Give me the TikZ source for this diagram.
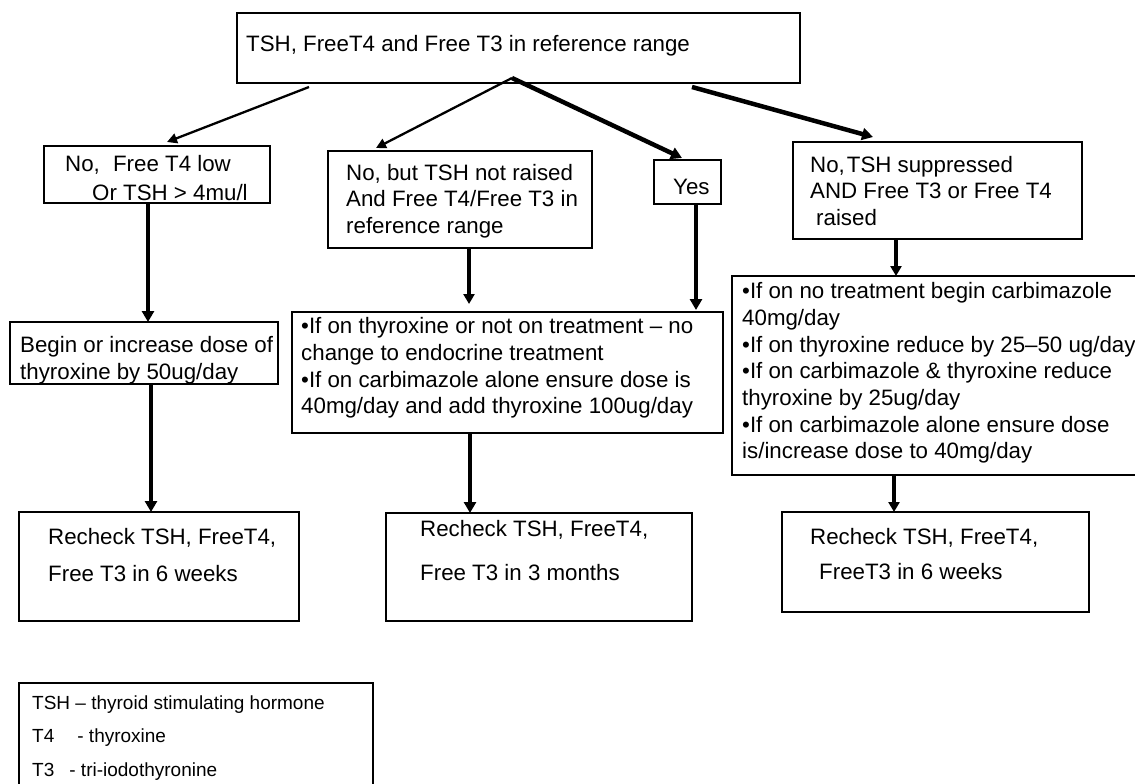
\documentclass[tikz,border=0pt]{standalone}
\usepackage{fontspec}
\setmainfont{Liberation Sans}
\usetikzlibrary{arrows.meta}
\begin{document}
\begin{tikzpicture}[x=1pt,y=-1pt,
  box/.style={draw, line width=1.4pt, inner sep=0pt, outer sep=0pt, anchor=north west},
  txt/.style={anchor=west, align=left, inner sep=0pt, font=\fontsize{22.3}{26.7}\selectfont},
  thinarrow/.style={line width=2.3pt, -{Triangle[length=10pt,width=10pt]}},
  thickarrow/.style={line width=4.5pt, -{Triangle[length=11pt,width=12pt]}},
  midarrow/.style={line width=3.5pt, -{Triangle[length=10pt,width=11pt]}},
]
\useasboundingbox (0,0) rectangle (1135,784);
\fill[white] (0,0) rectangle (1135,784);

% boxes
\node[box, minimum width=563pt, minimum height=70pt] (top) at (237,13) {};
\node[box, minimum width=226pt, minimum height=57pt] (noA) at (44,146) {};
\node[box, minimum width=264pt, minimum height=97pt] (noB) at (328,151) {};
\node[box, minimum width=67pt, minimum height=44pt] (yes) at (654,160) {};
\node[box, minimum width=289pt, minimum height=97pt] (noC) at (793,142) {};
\node[box, minimum width=268pt, minimum height=62pt] (begin) at (10,322) {};
\node[box, minimum width=431pt, minimum height=121pt] (midT) at (292,312) {};
\node[box, minimum width=420pt, minimum height=199pt] (rightT) at (732,276) {};
\node[box, minimum width=280pt, minimum height=109pt] (rc1) at (19,512) {};
\node[box, minimum width=306pt, minimum height=108pt] (rc2) at (386,513) {};
\node[box, minimum width=307pt, minimum height=100pt] (rc3) at (782,512) {};
\node[box, minimum width=354pt, minimum height=130pt] (legend) at (19,683) {};

% texts
\node[txt] (ttop) at (246,46) {TSH, FreeT4 and Free T3 in reference range};
\node[txt, font=\fontsize{22.3}{29}\selectfont] (tnoA) at (65,178.5) {No,\hspace{7pt} Free T4 low\\\hspace*{27pt}Or TSH > 4mu/l};
\node[txt] (tnoB) at (346,201) {No, but TSH not raised\\And Free T4/Free T3 in\\reference range};
\node[txt] (tyes) at (673,187) {Yes};
\node[txt] (tnoC) at (810,191) {No,\hspace{2pt}TSH suppressed\\AND Free T3 or Free T4\\\hspace*{6pt}raised};
\node[txt] (tbegin) at (20,360) {Begin or increase dose of\\thyroxine by 50ug/day};
\node[txt] (tmidT) at (301,368) {•If on thyroxine or not on treatment – no\\change to endocrine treatment\\•If on carbimazole alone ensure dose is\\40mg/day and add thyroxine 100ug/day};
\node[txt] (trightT) at (742,373) {•If on no treatment begin carbimazole\\40mg/day\\•If on thyroxine reduce by 25–50 ug/day\\•If on carbimazole \& thyroxine reduce\\thyroxine by 25ug/day\\•If on carbimazole alone ensure dose\\is/increase dose to 40mg/day};
\node[txt, font=\fontsize{22.3}{37}\selectfont] (trc1) at (48,555) {Recheck TSH, FreeT4,\\Free T3 in 6 weeks};
\node[txt, font=\fontsize{22.3}{44}\selectfont] (trc2) at (420,551) {Recheck TSH, FreeT4,\\Free T3 in 3 months};
\node[txt, font=\fontsize{22.3}{35}\selectfont] (trc3) at (810,554) {Recheck TSH, FreeT4,\\\hspace*{9pt}FreeT3 in 6 weeks};
\node[txt, font=\fontsize{19}{33.5}\selectfont] (tlegend) at (32,738) {TSH – thyroid stimulating hormone\\T4\hspace{23pt}- thyroxine\\T3\hspace{15pt}- tri-iodothyronine};

% connectors
\draw[thinarrow] ([shift={(72,4)}]top.south west) -- ([shift={(123,-4)}]noA.north west);
\draw[thinarrow] ([shift={(275,-5)}]top.south west) -- ([shift={(48,-3)}]noB.north west);
\draw[thickarrow] ([shift={(275,-5)}]top.south west) -- ([shift={(28,-2)}]yes.north west);
\draw[thickarrow] ([shift={(455,4)}]top.south west) -- ([shift={(80,-5)}]noC.north west);
\draw[thickarrow] ([xshift=104pt]noA.south west) -- ([xshift=138pt]begin.north west);
\draw[thickarrow] ([xshift=141pt]begin.south west) -- ([xshift=132pt]rc1.north west);
\draw[midarrow] ([xshift=141pt]noB.south west) -- ([shift={(177,-8)}]midT.north west);
\draw[thickarrow] ([xshift=42pt]yes.south west) -- ([shift={(404,-2)}]midT.north west);
\draw[thickarrow] ([xshift=178pt]midT.south west) -- ([xshift=84pt]rc2.north west);
\draw[midarrow] ([xshift=103pt]noC.south west) -- ([xshift=164pt]rightT.north west);
\draw[midarrow] ([xshift=162pt]rightT.south west) -- ([xshift=112pt]rc3.north west);
\end{tikzpicture}
\end{document}
